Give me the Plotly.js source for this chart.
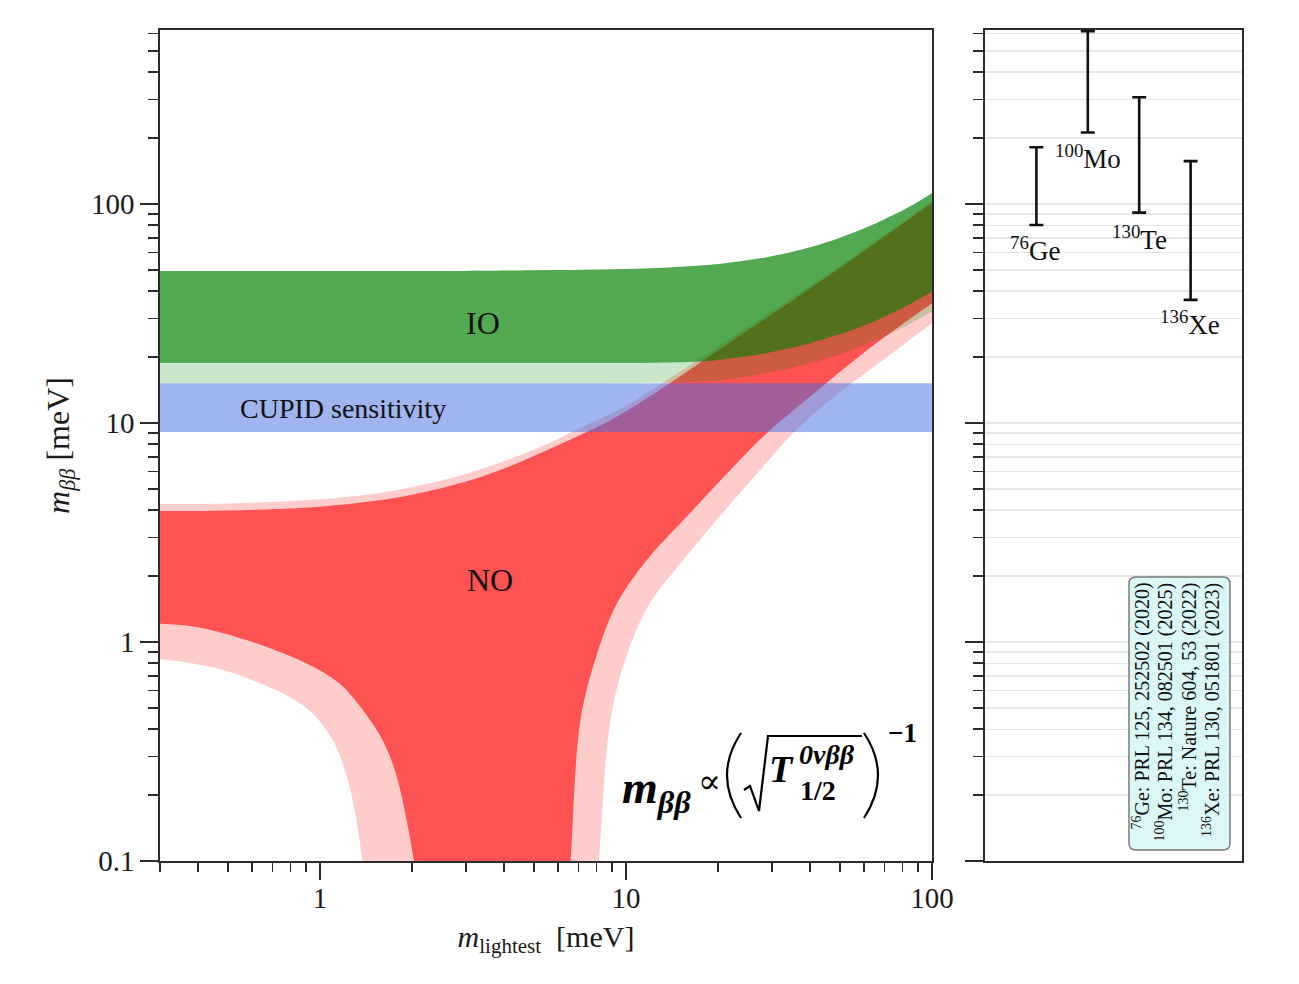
<!DOCTYPE html>
<html>
<head>
<meta charset="utf-8">
<script src="https://cdn.plot.ly/plotly-3.0.1.min.js"></script>
<style>html,body{margin:0;padding:0;background:#fff;}#chart{width:1299px;height:984px;}</style>
</head>
<body>
<div id="chart"></div>
<script>
// ---------------- data ----------------
// Normal ordering, outer (light) band
const noOuterUpperX = [0.3, 0.5, 1, 1.5, 2, 3, 4, 5.26, 7, 8.5, 10, 13.7, 17.5, 25, 35, 50, 70, 100];
const noOuterUpperY = [4.27, 4.29, 4.48, 4.75, 5.1, 5.85, 6.7, 7.8, 9.4, 10.7, 12.0, 15.8, 19.8, 27.5, 37.4, 52.3, 72.5, 103];
// lower edge: left branch, (off-axis continuation below 0.1), right branch
const noOuterLowerX = [0.3, 0.38, 0.481, 0.618, 0.794, 0.947, 1.10, 1.216, 1.31, 1.378, 1.5, 1.6,
                       7.4, 7.78, 8.15, 8.9, 10.1, 12.0, 15.4, 21.4, 28.0, 35.2, 50, 70, 100];
const noOuterLowerY = [0.836, 0.80, 0.745, 0.659, 0.563, 0.472, 0.357, 0.251, 0.159, 0.1, 0.05, 0.01,
                       0.01, 0.05, 0.1, 0.44, 0.89, 1.51, 2.37, 4.1, 6.3, 9.0, 13.8, 19.6, 28.6];
// Normal ordering, inner (dark) band
const noInnerUpperX = [0.3, 0.5, 1, 1.5, 2, 3, 4, 5.26, 7, 8.5, 10, 13.7, 17.5, 25, 35, 50, 70, 100];
const noInnerUpperY = [3.96, 3.98, 4.15, 4.4, 4.7, 5.4, 6.2, 7.3, 8.75, 9.95, 11.3, 15.0, 18.9, 26.5, 36.3, 51, 71, 101];
const noInnerLowerX = [0.3, 0.38, 0.48, 0.618, 0.90, 1.156, 1.378, 1.60, 1.77, 1.91, 2.03, 2.22, 2.35,
                       6.1, 6.35, 6.59, 7.1, 8.06, 9.36, 11.7, 16.2, 22.4, 28.9, 40, 60, 100];
const noInnerLowerY = [1.21, 1.18, 1.10, 0.986, 0.80, 0.648, 0.49, 0.357, 0.251, 0.159, 0.1, 0.05, 0.01,
                       0.01, 0.05, 0.1, 0.44, 0.89, 1.51, 2.37, 3.88, 6.3, 9.0, 13.2, 21.0, 35.2];
// Inverted ordering
const ioX = [0.3, 1, 3, 5, 8.26, 12, 17.5, 22, 28.9, 37, 47.5, 58, 69.2, 84, 100];
const ioUpperY = [49.4, 49.4, 49.5, 49.8, 50.2, 50.9, 52.4, 54.1, 57.2, 61.6, 68.3, 75.8, 84.5, 96.8, 112];
const ioInnerLowerY = [18.8, 18.8, 18.8, 18.8, 18.8, 18.85, 19.1, 19.7, 20.9, 22.5, 24.9, 27.4, 30.4, 34.7, 39.8];
const ioOuterLowerY = [15.2, 15.2, 15.2, 15.2, 15.2, 15.25, 15.45, 15.9, 16.9, 18.2, 20.1, 22.2, 24.7, 28.2, 32.2];
// CUPID sensitivity band
const cupidX = [0.3, 100];
const cupidLow = 9.1, cupidHigh = 15.2;
// Experimental limits (right panel)
const isotopes = ['<sup>76</sup>Ge', '<sup>100</sup>Mo', '<sup>130</sup>Te', '<sup>136</sup>Xe'];
const isoPos = [1, 2, 3, 4];
const isoLower = [80.2, 212, 91.3, 36.5];
const isoUpper = [181.5, 615, 307, 157];
const references = [
  '<sup>76</sup>Ge: PRL 125, 252502 (2020)',
  '<sup>100</sup>Mo: PRL 134, 082501 (2025)',
  '<sup>130</sup>Te: Nature 604, 53 (2022)',
  '<sup>136</sup>Xe: PRL 130, 051801 (2023)'
];
const yTickVals = [0.1, 1, 10, 100];
const yTickText = ['0.1', '1', '10', '100'];
const xTickVals = [1, 10, 100];
const xTickText = ['1', '10', '100'];
const xLim = [0.3, 100];
const yLim = [0.1, 623];

// ---------------- helpers ----------------
const PX = x => (x - 160) / 1082;
const PY = y => (861 - y) / 831;
const P = (x, y) => PX(x).toFixed(5) + ',' + PY(y).toFixed(5);
const FONT = 'Liberation Serif, Times New Roman, serif';

function band(xl, yl, xu, yu, color, name) {
  const lower = {x: xl, y: yl, type: 'scatter', mode: 'lines', line: {width: 0, shape: 'spline', smoothing: 1, color: color},
                 hoverinfo: 'skip', showlegend: false, xaxis: 'x', yaxis: 'y', name: name + ' low'};
  const upper = {x: xu, y: yu, type: 'scatter', mode: 'lines', fill: 'tonexty', fillcolor: color,
                 line: {width: 0, shape: 'spline', smoothing: 1, color: color},
                 hoverinfo: 'skip', showlegend: false, xaxis: 'x', yaxis: 'y', name: name};
  return [lower, upper];
}

const isoCenter = isoLower.map((lo, i) => Math.sqrt(lo * isoUpper[i]));

const traces = [].concat(
  band(noOuterLowerX, noOuterLowerY, noOuterUpperX, noOuterUpperY, 'rgba(255,0,0,0.2)', 'NO 3σ'),
  band(noInnerLowerX, noInnerLowerY, noInnerUpperX, noInnerUpperY, 'rgba(255,0,0,0.6)', 'NO'),
  band(ioX, ioOuterLowerY, ioX, ioUpperY, 'rgba(0,128,0,0.2)', 'IO 3σ'),
  band(ioX, ioInnerLowerY, ioX, ioUpperY, 'rgba(0,128,0,0.6)', 'IO'),
  [{x: [cupidX[0], cupidX[1], cupidX[1], cupidX[0]], y: [cupidLow, cupidLow, cupidHigh, cupidHigh],
    type: 'scatter', mode: 'lines', fill: 'toself', fillcolor: 'rgba(65,105,225,0.5)',
    line: {width: 0}, hoverinfo: 'skip', showlegend: false, xaxis: 'x', yaxis: 'y', name: 'CUPID'},
   {x: isoPos, y: isoCenter, type: 'scatter', mode: 'markers', xaxis: 'x2', yaxis: 'y2',
    marker: {size: 1, color: 'rgba(0,0,0,0)'}, hoverinfo: 'skip', showlegend: false,
    error_y: {type: 'data', symmetric: false,
              array: isoUpper.map((u, i) => u - isoCenter[i]),
              arrayminus: isoCenter.map((c, i) => c - isoLower[i]),
              color: '#111', thickness: 2.6, width: 7}}]
);

const axLine = {showline: true, mirror: true, linecolor: '#2b2b2b', linewidth: 1.6};
const tickFont = {family: FONT, size: 29, color: '#1a1a1a'};

function txt(text, x, y, size, opts) {
  return Object.assign({text: text, x: PX(x), y: PY(y), xref: 'paper', yref: 'paper', showarrow: false,
    xanchor: 'center', yanchor: 'middle', font: {family: FONT, size: size, color: '#111'}}, opts || {});
}

const annotations = [
  txt('IO', 483, 323, 32),
  txt('NO', 490, 580, 32),
  txt('CUPID sensitivity', 343, 408, 28),
  // formula pieces
  txt('<b><i>m</i></b><sub><b><i>ββ</i></b></sub>', 620, 791, 46, {xanchor: 'left', font: {family: FONT, size: 46, color: '#000'}}),
  txt('∝', 709, 781, 38, {font: {family: 'DejaVu Serif', size: 34, color: '#000'}}),
  txt('<b><i>T</i></b>', 781, 769, 38, {font: {family: FONT, size: 38, color: '#000'}}),
  txt('<b><i>0νββ</i></b>', 797, 754, 27, {xanchor: 'left', font: {family: FONT, size: 28, color: '#000'}}),
  txt('<b>1/2</b>', 798, 790, 27, {xanchor: 'left', font: {family: FONT, size: 28, color: '#000'}}),
  txt('<b>−1</b>', 886, 733, 26, {xanchor: 'left', font: {family: FONT, size: 27, color: '#000'}})
];
// isotope labels
const isoLabelPos = [[1035, 249], [1088, 157], [1139, 238], [1190, 323]];
isotopes.forEach((t, i) => annotations.push(txt(t, isoLabelPos[i][0], isoLabelPos[i][1], 27)));
// reference box text
const refX = [1141, 1164, 1188, 1211];
references.forEach((t, i) => annotations.push(txt(t, refX[i], 581, 20, {yanchor: 'top', textangle: -90})));

const bx0 = 1129, bx1 = 1230, by0 = 577, by1 = 850, br = 7;
const boxPath = `M ${P(bx0 + br, by0)} L ${P(bx1 - br, by0)} Q ${P(bx1, by0)} ${P(bx1, by0 + br)} L ${P(bx1, by1 - br)} Q ${P(bx1, by1)} ${P(bx1 - br, by1)} L ${P(bx0 + br, by1)} Q ${P(bx0, by1)} ${P(bx0, by1 - br)} L ${P(bx0, by0 + br)} Q ${P(bx0, by0)} ${P(bx0 + br, by0)} Z`;

const shapes = [
  {type: 'path', xref: 'paper', yref: 'paper', path: boxPath, fillcolor: 'rgba(214,246,246,0.85)',
   line: {color: '#7a7a7a', width: 1.5}, layer: 'above'},
  {type: 'path', xref: 'paper', yref: 'paper', path: `M ${P(741, 733)} Q ${P(713, 775)} ${P(741, 818)}`,
   line: {color: '#000', width: 2.2}},
  {type: 'path', xref: 'paper', yref: 'paper',
   path: `M ${P(744, 790)} L ${P(750, 786)} L ${P(759, 811)} L ${P(768, 736)} L ${P(862, 736)}`,
   line: {color: '#000', width: 2.2}},
  {type: 'path', xref: 'paper', yref: 'paper', path: `M ${P(864, 733)} Q ${P(892, 775)} ${P(864, 818)}`,
   line: {color: '#000', width: 2.2}}
];

const layout = {
  width: 1299, height: 984, autosize: false,
  margin: {l: 160, r: 57, t: 30, b: 123, pad: 0},
  paper_bgcolor: '#fff', plot_bgcolor: 'rgba(0,0,0,0)',
  showlegend: false,
  font: {family: FONT, color: '#1a1a1a'},
  xaxis: Object.assign({}, axLine, {
    type: 'log', domain: [0, 772 / 1082], range: [Math.log10(xLim[0]), Math.log10(xLim[1])],
    tickmode: 'array', tickvals: xTickVals, ticktext: xTickText, ticks: 'outside', ticklen: 17, tickwidth: 1.6,
    tickcolor: '#2b2b2b', tickfont: tickFont, showgrid: false, zeroline: false, ticklabelstandoff: -6,
    minor: {dtick: 'D1', ticks: 'outside', ticklen: 9, tickwidth: 1.5, tickcolor: '#2b2b2b', showgrid: false},
    title: {text: '<i>m</i><sub>lightest</sub>  [meV]', font: {family: FONT, size: 30, color: '#1a1a1a'}, standoff: 12},
    anchor: 'y'
  }),
  yaxis: Object.assign({}, axLine, {
    type: 'log', domain: [0, 1], range: [Math.log10(yLim[0]), Math.log10(yLim[1])],
    tickmode: 'array', tickvals: yTickVals, ticktext: yTickText, ticks: 'outside', ticklen: 18, tickwidth: 1.6,
    tickcolor: '#2b2b2b', tickfont: tickFont, showgrid: false, zeroline: false,
    minor: {dtick: 'D1', ticks: 'outside', ticklen: 10, tickwidth: 1.5, tickcolor: '#2b2b2b', showgrid: false},
    title: {text: '<i>m</i><sub><i>ββ</i></sub> [meV]', font: {family: FONT, size: 32, color: '#1a1a1a'}, standoff: 12},
    anchor: 'x'
  }),
  xaxis2: Object.assign({}, axLine, {
    domain: [825 / 1082, 1], range: [0, 5], showticklabels: false, ticks: '', showgrid: false,
    zeroline: false, anchor: 'y2'
  }),
  yaxis2: Object.assign({}, axLine, {
    type: 'log', domain: [0, 1], range: [Math.log10(yLim[0]), Math.log10(yLim[1])], anchor: 'x2',
    tickmode: 'array', tickvals: yTickVals, showticklabels: false, ticks: 'outside', ticklen: 18, tickwidth: 1.6,
    tickcolor: '#2b2b2b', showgrid: true, gridcolor: '#e6e6e6', gridwidth: 1.3, zeroline: false,
    minor: {dtick: 'D1', ticks: 'outside', ticklen: 10, tickwidth: 1.5, tickcolor: '#2b2b2b',
            showgrid: true, gridcolor: '#e6e6e6', gridwidth: 1.3}
  }),
  annotations: annotations,
  shapes: shapes
};

Plotly.newPlot('chart', traces, layout, {staticPlot: true, displayModeBar: false});
</script>
</body>
</html>
